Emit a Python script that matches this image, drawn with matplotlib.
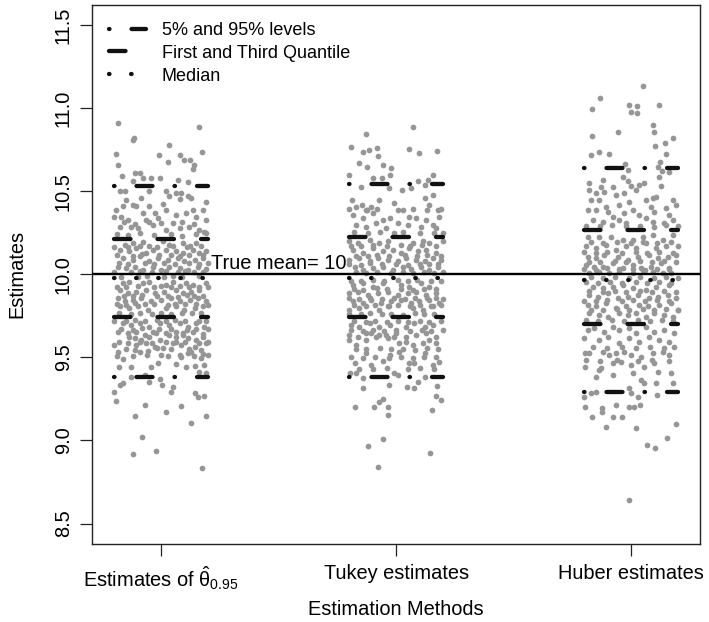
import matplotlib
matplotlib.use("Agg")
import matplotlib.pyplot as plt
from matplotlib.lines import Line2D

plt.rcParams['font.family'] = ['Liberation Sans', 'DejaVu Sans']
plt.rcParams['mathtext.fontset'] = 'custom'
plt.rcParams['mathtext.rm'] = 'Liberation Sans'
plt.rcParams['mathtext.it'] = 'Liberation Sans:italic'
plt.rcParams['lines.scale_dashes'] = False

methods = ["Estimates of $\\hat{\\mathrm{\\theta}}_{0.95}$", "Tukey estimates", "Huber estimates"]
level_names = ["5% and 95% levels", "First and Third Quantile", "Median"]

# quantile levels per method: 5%, Q1, median, Q3, 95%
q05 = [9.380, 9.382, 9.290]
q25 = [9.745, 9.745, 9.699]
q50 = [9.976, 9.980, 9.966]
q75 = [10.212, 10.224, 10.267]
q95 = [10.533, 10.543, 10.638]
true_mean = 10.0

# ---- method 1 (theta_0.95) : jitter offsets and estimates ----
g1_dx = [-0.184,-0.121,-0.114,0.163,0.035,0.174,-0.194,-0.01,0.078,0.028,0.099,0.123,-0.184,0.139,0.135,-0.166,-0.113,-0.092,-0.12,-0.078,-0.043,-0.007,0.071,0.113,-0.177,-0.156,-0.05,0.021,0.035,0.064,0.085,0.078,0.113,0.128,-0.085,-0.149,-0.163,-0.12,-0.106,-0.05,0.007,0.189,-0.191,-0.199,-0.17,-0.142,-0.078,-0.028,0.021,0.064,0.104,0.135,0.149,0.177,0.191,-0.064,-0.014,-0.035,-0.128,-0.099,-0.177,0.05,0.078,0.12,0.163,0.184,0.021,
 -0.156,-0.121,-0.078,-0.05,0.007,0.035,0.092,0.121,0.149,
 -0.177,-0.135,-0.106,-0.064,-0.035,0.021,0.064,0.092,0.135,0.163,0.191,
 -0.163,-0.121,-0.092,-0.05,-0.014,0.028,0.071,0.099,0.142,0.177,
 -0.184,-0.149,-0.113,-0.078,-0.035,0.0,0.035,0.078,0.113,0.156,0.191,
 -0.163,-0.135,-0.078,-0.05,0.021,0.05,0.106,0.135,0.191,
 -0.177,-0.142,-0.106,-0.064,-0.028,0.014,0.064,0.092,0.128,0.163,
 -0.184,-0.156,-0.121,-0.085,-0.043,0.0,0.043,0.078,0.121,0.156,0.191,
 -0.177,-0.135,-0.099,-0.057,0.021,0.064,0.099,0.142,0.177,
 -0.163,-0.128,-0.092,-0.05,-0.007,0.035,0.078,0.113,0.149,0.184,
 -0.184,-0.142,-0.106,-0.071,-0.035,0.021,0.064,0.092,0.135,0.177,
 -0.135,-0.113,-0.085,-0.05,-0.021,-0.007,0.035,0.064,0.092,0.113,0.149,0.177,0.199,
 -0.199,-0.184,-0.106,-0.064,-0.028,0.007,0.064,0.085,0.142,0.191,
 -0.163,-0.092,-0.057,0.0,0.085,0.113,0.128,0.17,0.177,
 -0.18,-0.128,-0.043,-0.014,0.064,0.106,0.142,0.184,
 -0.128,-0.071,-0.05,-0.007,0.163,0.191,
 -0.177,-0.163,0.004,0.043,0.05,0.142,0.156,0.184,-0.199,
 -0.194,-0.071,-0.113,0.021,0.085,0.128,0.189,-0.081,-0.121,-0.021,0.174,
 # denser core
 -0.19,-0.14,-0.09,-0.03,0.04,0.09,0.15,0.19,
 -0.16,-0.11,-0.05,0.0,0.09,0.14,
 -0.2,-0.14,-0.09,-0.02,0.05,0.11,0.17,
 -0.19,-0.12,-0.08,-0.01,0.04,0.08,0.12,0.18,
 -0.18,-0.14,-0.07,-0.03,0.01,0.06,0.12,0.16,0.2,
 -0.2,-0.13,-0.09,-0.04,0.02,0.07,0.1,0.14,0.18,
 -0.17,-0.1,-0.06,0.01,0.05,0.09,0.16,
 -0.19,-0.15,-0.1,-0.03,0.0,0.04,0.08,0.12,0.16,0.2,
 -0.16,-0.12,-0.08,-0.02,0.03,0.07,0.11,0.14,0.18,
 -0.19,-0.15,-0.11,-0.07,-0.03,0.03,0.06,0.1,0.15,0.2,
 -0.18,-0.13,-0.09,-0.04,0.0,0.04,0.09,0.13,0.17,
 -0.2,-0.15,-0.11,-0.07,-0.02,0.02,0.06,0.1,0.16,0.19,
 -0.17,-0.12,-0.08,-0.01,0.04,0.11,0.15,0.2,
 -0.18,-0.14,-0.09,-0.04,0.02,0.05,0.1,0.16,
 -0.15,-0.11,-0.02,0.04,0.12,0.17,
 -0.19,-0.12,-0.06,0.03,0.08,0.14,0.2]
g1_y = [10.909,10.81,10.82,10.885,10.78,10.736,10.724,10.716,10.72,10.678,10.688,10.688,10.658,10.658,10.632,10.592,10.608,10.608,10.562,10.578,10.578,10.58,10.568,10.552,10.498,10.498,10.498,10.498,10.468,10.488,10.488,10.452,10.468,10.458,10.458,10.448,10.408,10.418,10.408,10.408,10.423,10.432,10.387,10.347,10.347,10.327,10.367,10.367,10.387,10.357,10.367,10.387,10.347,10.387,10.327,10.327,10.337,10.297,10.287,10.277,10.287,10.307,10.277,10.287,10.267,10.257,10.267,
 10.177,10.187,10.191,10.167,10.197,10.177,10.187,10.167,10.187,
 10.147,10.137,10.157,10.127,10.147,10.147,10.137,10.127,10.147,10.127,10.137,
 10.097,10.087,10.107,10.077,10.097,10.087,10.097,10.077,10.087,10.097,
 10.046,10.036,10.046,10.026,10.046,10.026,10.046,10.036,10.026,10.046,10.030,
 9.946,9.956,9.946,9.956,9.936,9.956,9.946,9.936,9.946,
 9.906,9.886,9.896,9.906,9.886,9.896,9.906,9.886,9.896,9.906,
 9.856,9.836,9.846,9.856,9.836,9.846,9.856,9.836,9.846,9.856,9.836,
 9.806,9.796,9.806,9.786,9.796,9.806,9.786,9.796,9.806,
 9.705,9.695,9.705,9.685,9.705,9.695,9.705,9.685,9.705,9.685,
 9.655,9.645,9.655,9.635,9.655,9.645,9.655,9.635,9.655,9.641,
 9.625,9.615,9.605,9.625,9.645,9.605,9.635,9.625,9.645,9.615,9.605,9.625,9.595,
 9.575,9.535,9.575,9.585,9.565,9.555,9.595,9.575,9.565,9.585,
 9.489,9.535,9.541,9.515,9.505,9.525,9.535,9.495,9.521,
 9.444,9.444,9.44,9.468,9.46,9.444,9.448,9.454,
 9.384,9.394,9.354,9.368,9.414,9.404,
 9.334,9.344,9.334,9.294,9.32,9.284,9.264,9.268,9.294,
 9.238,9.214,9.148,9.174,9.208,9.103,9.148,9.019,8.919,8.939,8.833,
 # denser core
 10.243,10.236,10.247,10.238,10.244,10.233,10.241,10.246,
 10.312,10.305,10.316,10.309,10.314,10.303,
 10.166,10.162,10.169,10.163,10.167,10.161,10.168,
 10.117,10.112,10.119,10.114,10.118,10.111,10.116,10.113,
 10.066,10.062,10.069,10.063,10.067,10.061,10.068,10.064,10.066,
 10.016,10.012,10.019,10.013,10.017,10.011,10.018,10.014,10.016,
 9.986,9.982,9.989,9.983,9.987,9.981,9.988,
 9.926,9.922,9.929,9.923,9.927,9.921,9.928,9.924,9.926,9.922,
 9.871,9.867,9.874,9.868,9.872,9.866,9.873,9.869,9.871,
 9.821,9.817,9.824,9.818,9.822,9.816,9.823,9.819,9.821,9.817,
 9.766,9.762,9.769,9.763,9.767,9.761,9.768,9.764,9.766,
 9.721,9.717,9.724,9.718,9.722,9.716,9.723,9.719,9.721,9.717,
 9.671,9.667,9.674,9.668,9.672,9.666,9.673,9.669,
 9.591,9.587,9.594,9.588,9.592,9.586,9.593,9.589,
 9.551,9.547,9.554,9.548,9.552,9.546,
 9.511,9.507,9.514,9.508,9.512,9.506,9.513]

# ---- method 2 (Tukey) ----
g2_dx = [0.071,-0.13,-0.191,-0.142,-0.116,-0.081,-0.078,0.054,0.099,0.173,-0.159,-0.057,-0.021,-0.024,-0.125,-0.199,0.156,-0.099,-0.06,0.064,0.092,0.121,0.135,0.026,-0.149,-0.031,-0.187,-0.17,-0.145,-0.125,-0.106,-0.071,-0.007,0.028,0.057,0.121,0.142,0.156,0.177,0.184,
 -0.184,-0.142,-0.099,-0.057,-0.028,0.007,0.085,0.128,0.156,
 -0.17,-0.128,-0.085,-0.043,0.05,0.106,0.17,
 -0.199,-0.163,-0.113,-0.071,-0.035,0.071,0.113,0.142,0.199,
 -0.184,-0.142,-0.099,-0.057,-0.014,0.021,0.057,0.092,0.128,0.17,
 -0.199,-0.156,-0.113,-0.078,-0.035,0.007,0.043,0.085,0.121,0.156,0.191,
 -0.177,-0.142,-0.099,-0.057,-0.014,0.028,0.064,0.106,0.142,0.177,
 -0.184,-0.142,-0.099,-0.057,0.021,0.057,0.106,0.142,
 -0.199,-0.163,-0.121,-0.078,-0.035,0.007,0.05,0.085,0.128,0.17,
 -0.184,-0.142,-0.106,-0.064,-0.021,0.021,0.064,0.099,0.142,0.184,
 -0.199,-0.156,-0.071,-0.035,0.071,0.113,0.156,
 -0.191,-0.156,-0.113,-0.071,-0.028,0.043,0.078,0.121,0.156,
 -0.199,-0.163,-0.128,-0.085,-0.043,0.0,0.043,0.085,0.128,0.17,
 -0.199,-0.17,-0.128,-0.106,-0.071,-0.035,-0.007,0.014,0.043,0.071,0.113,0.142,0.17,
 -0.177,-0.128,-0.106,-0.057,-0.028,0.014,0.057,0.078,0.121,0.156,0.184,
 -0.196,-0.17,-0.142,-0.007,0.007,0.092,0.121,
 -0.142,-0.031,0.045,0.078,0.173,0.17,0.191,
 -0.177,-0.095,-0.074,-0.054,-0.035,-0.033,0.153,-0.057,-0.118,0.145,-0.075,
 # denser core
 -0.18,-0.12,-0.07,-0.01,0.03,0.1,0.16,0.2,
 -0.19,-0.15,-0.1,-0.04,0.02,0.06,0.11,0.17,
 -0.17,-0.12,-0.08,-0.03,0.04,0.09,0.13,0.19,
 -0.2,-0.15,-0.11,-0.06,0.0,0.05,0.1,0.14,0.18,
 -0.17,-0.13,-0.08,-0.02,0.03,0.07,0.12,0.16,0.2,
 -0.19,-0.15,-0.1,-0.05,0.01,0.05,0.09,0.15,0.19,
 -0.18,-0.14,-0.08,-0.04,0.02,0.07,0.12,0.17,
 -0.2,-0.16,-0.11,-0.06,-0.01,0.04,0.08,0.13,0.17,0.2,
 -0.18,-0.13,-0.09,-0.03,0.01,0.06,0.1,0.15,0.19,
 -0.2,-0.15,-0.11,-0.06,-0.02,0.03,0.08,0.12,0.16,
 -0.18,-0.13,-0.09,-0.04,0.01,0.05,0.1,0.14,0.19,
 -0.19,-0.14,-0.1,-0.05,0.0,0.06,0.11,0.15,0.2,
 -0.17,-0.13,-0.07,-0.02,0.03,0.08,0.13,0.18,
 -0.19,-0.14,-0.09,-0.03,0.02,0.07,0.12,0.17,
 -0.16,-0.1,-0.04,0.05,0.1,0.16,
 -0.2,-0.13,-0.08,0.01,0.07,0.13,0.19]
g2_y = [10.885,10.845,10.768,10.738,10.748,10.758,10.712,10.754,10.732,10.744,10.668,10.658,10.638,10.598,10.644,10.598,10.598,10.578,10.578,10.518,10.558,10.538,10.568,10.508,10.524,10.518,10.448,10.407,10.417,10.387,10.407,10.448,10.428,10.387,10.347,10.458,10.417,10.478,10.387,10.347,
 10.357,10.337,10.367,10.327,10.337,10.307,10.337,10.327,10.297,
 10.297,10.287,10.307,10.277,10.297,10.287,10.277,
 10.197,10.187,10.207,10.187,10.197,10.187,10.197,10.187,10.197,
 10.147,10.127,10.157,10.137,10.147,10.127,10.157,10.137,10.147,10.127,
 10.087,10.097,10.077,10.097,10.087,10.077,10.097,10.087,10.077,10.097,10.087,
 10.046,10.026,10.036,10.046,10.026,10.046,10.030,10.046,10.026,10.042,
 9.936,9.946,9.926,9.946,9.936,9.926,9.946,9.926,
 9.886,9.896,9.876,9.886,9.896,9.876,9.886,9.896,9.876,9.886,
 9.836,9.826,9.846,9.826,9.836,9.846,9.826,9.836,9.846,9.826,
 9.786,9.796,9.786,9.806,9.796,9.786,9.806,
 9.695,9.685,9.705,9.685,9.695,9.685,9.705,9.685,9.695,
 9.635,9.625,9.645,9.625,9.635,9.645,9.625,9.635,9.645,9.625,
 9.605,9.575,9.605,9.645,9.635,9.615,9.625,9.585,9.595,9.575,9.585,9.605,9.585,
 9.468,9.525,9.454,9.48,9.515,9.535,9.464,9.464,9.525,9.454,9.475,
 9.404,9.408,9.378,9.408,9.394,9.354,9.384,
 9.314,9.334,9.32,9.314,9.328,9.268,9.244,
 9.204,9.204,9.234,9.248,9.204,9.154,9.184,9.009,8.969,8.927,8.843,
 # denser core
 10.252,10.247,10.255,10.249,10.253,10.246,10.251,10.248,
 10.172,10.168,10.175,10.169,10.173,10.167,10.174,10.17,
 10.112,10.108,10.115,10.109,10.113,10.107,10.114,10.11,
 10.062,10.058,10.065,10.059,10.063,10.057,10.064,10.06,10.062,
 10.012,10.008,10.015,10.009,10.013,10.007,10.014,10.01,10.012,
 9.962,9.958,9.965,9.959,9.963,9.957,9.964,9.96,9.962,
 9.912,9.908,9.915,9.909,9.913,9.907,9.914,9.91,
 9.857,9.853,9.86,9.854,9.858,9.852,9.859,9.855,9.857,9.853,
 9.812,9.808,9.815,9.809,9.813,9.807,9.814,9.81,9.812,
 9.762,9.758,9.765,9.759,9.763,9.757,9.764,9.76,9.762,
 9.717,9.713,9.72,9.714,9.718,9.712,9.719,9.715,9.717,
 9.662,9.658,9.665,9.659,9.663,9.657,9.664,9.66,9.662,
 9.552,9.548,9.555,9.549,9.553,9.547,9.554,9.55,
 9.502,9.498,9.505,9.499,9.503,9.497,9.504,9.5,
 9.432,9.428,9.435,9.429,9.433,9.427,
 10.392,10.388,10.395,10.389,10.393,10.387,10.394]

# ---- method 3 (Huber) ----
g3_dx = [0.05,-0.13,-0.167,-0.007,0.026,0.0,0.026,0.121,0.092,0.099,-0.166,-0.057,0.145,0.102,0.18,-0.17,-0.138,-0.095,0.149,0.123,0.132,0.163,0.113,-0.024,-0.014,
 -0.18,-0.121,-0.128,-0.078,-0.035,-0.014,0.0,0.035,0.057,0.121,0.128,
 -0.177,-0.149,-0.113,-0.064,-0.028,0.021,0.064,0.092,0.106,
 -0.17,-0.135,-0.106,-0.05,-0.007,0.085,0.177,0.191,
 -0.184,-0.149,-0.099,-0.078,-0.028,0.007,0.035,0.099,0.163,0.177,0.149,
 -0.163,-0.121,-0.05,-0.021,0.064,0.092,0.142,
 -0.184,-0.135,-0.085,-0.035,0.007,0.05,0.092,0.135,0.177,0.199,
 -0.191,-0.149,-0.106,-0.064,-0.021,0.021,0.064,0.106,0.149,
 -0.184,-0.149,-0.113,-0.057,-0.014,0.028,0.078,0.113,0.156,0.191,
 -0.191,-0.156,-0.121,-0.078,-0.035,0.007,0.043,0.085,0.128,0.163,
 -0.177,-0.135,-0.092,-0.05,0.007,0.05,0.092,0.135,0.17,
 -0.163,-0.121,-0.078,-0.035,0.007,0.064,0.106,0.163,
 -0.177,-0.142,-0.099,-0.057,-0.014,0.028,0.078,0.113,0.156,0.191,
 -0.184,-0.149,-0.106,-0.064,-0.021,0.035,0.071,0.121,0.17,0.199,
 -0.177,-0.135,-0.099,-0.05,-0.014,0.021,0.064,0.099,0.142,0.177,
 -0.184,-0.156,-0.113,-0.078,-0.05,-0.007,0.021,0.064,0.099,0.142,0.184,
 -0.199,-0.135,-0.099,-0.05,-0.007,0.035,0.078,0.121,0.163,
 -0.194,-0.177,-0.121,-0.092,-0.064,-0.028,0.0,0.043,0.092,0.135,0.163,0.184,
 -0.194,-0.128,-0.078,-0.043,0.0,0.057,0.099,0.113,0.17,-0.135,
 -0.149,-0.078,0.007,0.043,0.057,0.106,0.177,
 -0.199,-0.17,-0.149,-0.007,0.0,0.111,0.028,
 -0.194,-0.123,-0.123,-0.064,-0.007,0.014,0.04,-0.078,-0.038,-0.167,
 -0.106,0.021,0.191,0.153,0.068,0.104,-0.01,
 # denser core
 -0.19,-0.13,-0.08,-0.02,0.04,0.1,0.15,0.2,
 -0.17,-0.12,-0.06,0.0,0.05,0.11,0.17,
 -0.2,-0.15,-0.1,-0.04,0.02,0.07,0.12,0.18,
 -0.18,-0.13,-0.07,-0.02,0.04,0.09,0.14,0.19,
 -0.2,-0.15,-0.1,-0.05,0.01,0.06,0.11,0.16,
 -0.17,-0.12,-0.07,-0.01,0.04,0.1,0.15,0.2,
 -0.19,-0.14,-0.09,-0.04,0.02,0.07,0.12,0.17,
 -0.18,-0.12,-0.07,-0.02,0.04,0.09,0.14,0.19,
 -0.2,-0.15,-0.1,-0.04,0.01,0.06,0.11,0.16,
 -0.17,-0.12,-0.06,-0.01,0.05,0.1,0.15,0.2,
 -0.19,-0.14,-0.08,-0.03,0.03,0.08,0.13,0.18,
 -0.16,-0.1,-0.04,0.02,0.08,0.14,
 -0.19,-0.13,-0.06,0.03,0.09,0.16]
g3_y = [11.13,11.06,10.995,11.019,11.015,10.979,10.969,11.019,10.899,10.854,10.832,10.854,10.792,10.772,10.818,10.718,10.734,10.722,10.722,10.674,10.622,10.614,10.648,10.664,10.628,
 10.548,10.568,10.524,10.524,10.588,10.558,10.528,10.538,10.548,10.588,10.528,
 10.507,10.487,10.497,10.477,10.487,10.507,10.447,10.457,10.467,
 10.447,10.447,10.407,10.417,10.437,10.407,10.447,10.417,
 10.387,10.387,10.377,10.347,10.367,10.387,10.357,10.377,10.357,10.327,10.397,
 10.327,10.317,10.327,10.307,10.337,10.317,10.307,
 10.227,10.227,10.227,10.207,10.207,10.227,10.237,10.207,10.237,10.167,
 10.167,10.157,10.177,10.147,10.167,10.157,10.187,10.157,10.167,
 10.106,10.096,10.116,10.106,10.086,10.106,10.116,10.096,10.106,10.116,
 10.056,10.046,10.046,10.066,10.036,10.056,10.036,10.046,10.066,10.036,
 10.006,10.016,10.006,10.016,10.006,10.026,10.016,10.01,10.006,
 9.926,9.916,9.926,9.936,9.916,9.906,9.926,9.936,
 9.876,9.866,9.886,9.856,9.866,9.876,9.856,9.866,9.876,9.856,
 9.816,9.806,9.826,9.796,9.806,9.816,9.806,9.816,9.826,9.785,
 9.765,9.755,9.745,9.765,9.755,9.765,9.745,9.765,9.755,9.745,
 9.665,9.675,9.655,9.685,9.665,9.675,9.645,9.685,9.655,9.665,9.645,
 9.615,9.605,9.625,9.585,9.615,9.595,9.625,9.605,9.595,
 9.524,9.528,9.534,9.514,9.524,9.534,9.514,9.504,9.524,9.534,9.514,9.565,
 9.44,9.434,9.464,9.474,9.454,9.444,9.464,9.414,9.404,9.424,
 9.384,9.394,9.404,9.364,9.344,9.344,9.344,
 9.264,9.284,9.294,9.314,9.284,9.274,9.264,
 9.2,9.194,9.174,9.214,9.2,9.204,9.214,9.143,9.143,9.143,
 9.079,9.073,9.097,9.013,8.973,8.957,8.642,
 # denser core
 10.292,10.288,10.295,10.289,10.293,10.287,10.294,10.29,
 10.192,10.188,10.195,10.189,10.193,10.187,10.194,
 10.132,10.128,10.135,10.129,10.133,10.127,10.134,10.13,
 10.076,10.072,10.079,10.073,10.077,10.071,10.078,10.074,
 10.032,10.028,10.035,10.029,10.033,10.027,10.034,10.03,
 9.982,9.978,9.985,9.979,9.983,9.977,9.984,9.98,
 9.952,9.948,9.955,9.949,9.953,9.947,9.954,9.95,
 9.897,9.893,9.9,9.894,9.898,9.892,9.899,9.895,
 9.842,9.838,9.845,9.839,9.843,9.837,9.844,9.84,
 9.787,9.783,9.79,9.784,9.788,9.782,9.789,9.785,
 9.722,9.718,9.725,9.719,9.723,9.717,9.724,9.72,
 9.562,9.558,9.565,9.559,9.563,9.557,
 9.482,9.478,9.485,9.479,9.483,9.477]

groups_dx = [g1_dx, g2_dx, g3_dx]
groups_y = [g1_y, g2_y, g3_y]

PX = 0.72  # points per pixel at 100 dpi
dash_dotdash = (0, (0.5 * PX, 22 * PX, 16 * PX, 22 * PX))
dash_dashed = (0, (16.5 * PX, 27 * PX))
dash_dotted = (0, (0.5 * PX, 21.6 * PX))
qlw = 4.3 * PX
qcol = "#111111"

fig = plt.figure(figsize=(7.09, 6.22), dpi=100)
ax = fig.add_axes([0.1293, 0.1262, 0.988 - 0.1293, 0.992 - 0.1262])

for i, (dxs, ys) in enumerate(zip(groups_dx, groups_y)):
    pos = i + 1
    ax.scatter([pos + d for d in dxs], ys, s=17, c="#969696", linewidths=0, zorder=2)

half = 0.2
for i in range(3):
    pos = i + 1
    xs = [pos - half, pos + half]
    for val, ls in [(q05[i], dash_dotdash), (q95[i], dash_dotdash),
                    (q25[i], dash_dashed), (q75[i], dash_dashed),
                    (q50[i], dash_dotted)]:
        ax.plot(xs, [val, val], color=qcol, lw=qlw, linestyle=ls,
                dash_capstyle='round', solid_capstyle='round', zorder=3)

ax.axhline(true_mean, color="black", lw=1.7, zorder=4)
ax.text(1.21, true_mean + 0.005, "True mean= " + "%g" % true_mean, ha="left", va="bottom",
        fontsize=14.4, zorder=5)

ax.set_xlim(0.704, 3.296)
ax.set_ylim(8.38, 11.62)
ax.set_xticks([1, 2, 3])
ax.set_xticklabels(methods, fontsize=14.4)
yt = [8.5, 9.0, 9.5, 10.0, 10.5, 11.0, 11.5]
ax.set_yticks(yt)
ax.set_yticklabels(["%.1f" % v for v in yt], rotation=90, va="center", fontsize=14.4)
ax.tick_params(axis="both", length=8.6, width=0.9, color="#222222")
ax.tick_params(axis="y", pad=5)
ax.tick_params(axis="x", pad=6)
for sp in ax.spines.values():
    sp.set_linewidth(1.0)
    sp.set_color("#222222")

ax.set_xlabel("Estimation Methods", fontsize=14.4)
ax.set_ylabel("Estimates", fontsize=14.4)
ax.xaxis.set_label_coords(0.5, -0.105)
ax.yaxis.set_label_coords(-0.108, 0.5)

handles = [Line2D([], [], color=qcol, lw=qlw, linestyle=dash_dotdash, dash_capstyle='round'),
           Line2D([], [], color=qcol, lw=qlw, linestyle=dash_dashed, dash_capstyle='round'),
           Line2D([], [], color=qcol, lw=qlw, linestyle=dash_dotted, dash_capstyle='round')]
ax.legend(handles, level_names, loc="upper left", frameon=False, fontsize=13,
          handlelength=2.05, handletextpad=0.87, labelspacing=0.32, borderpad=0,
          borderaxespad=0, bbox_to_anchor=(17.3 / 608.8, 1 - 17 / 538.5))

fig.savefig("out.png", dpi=100)
